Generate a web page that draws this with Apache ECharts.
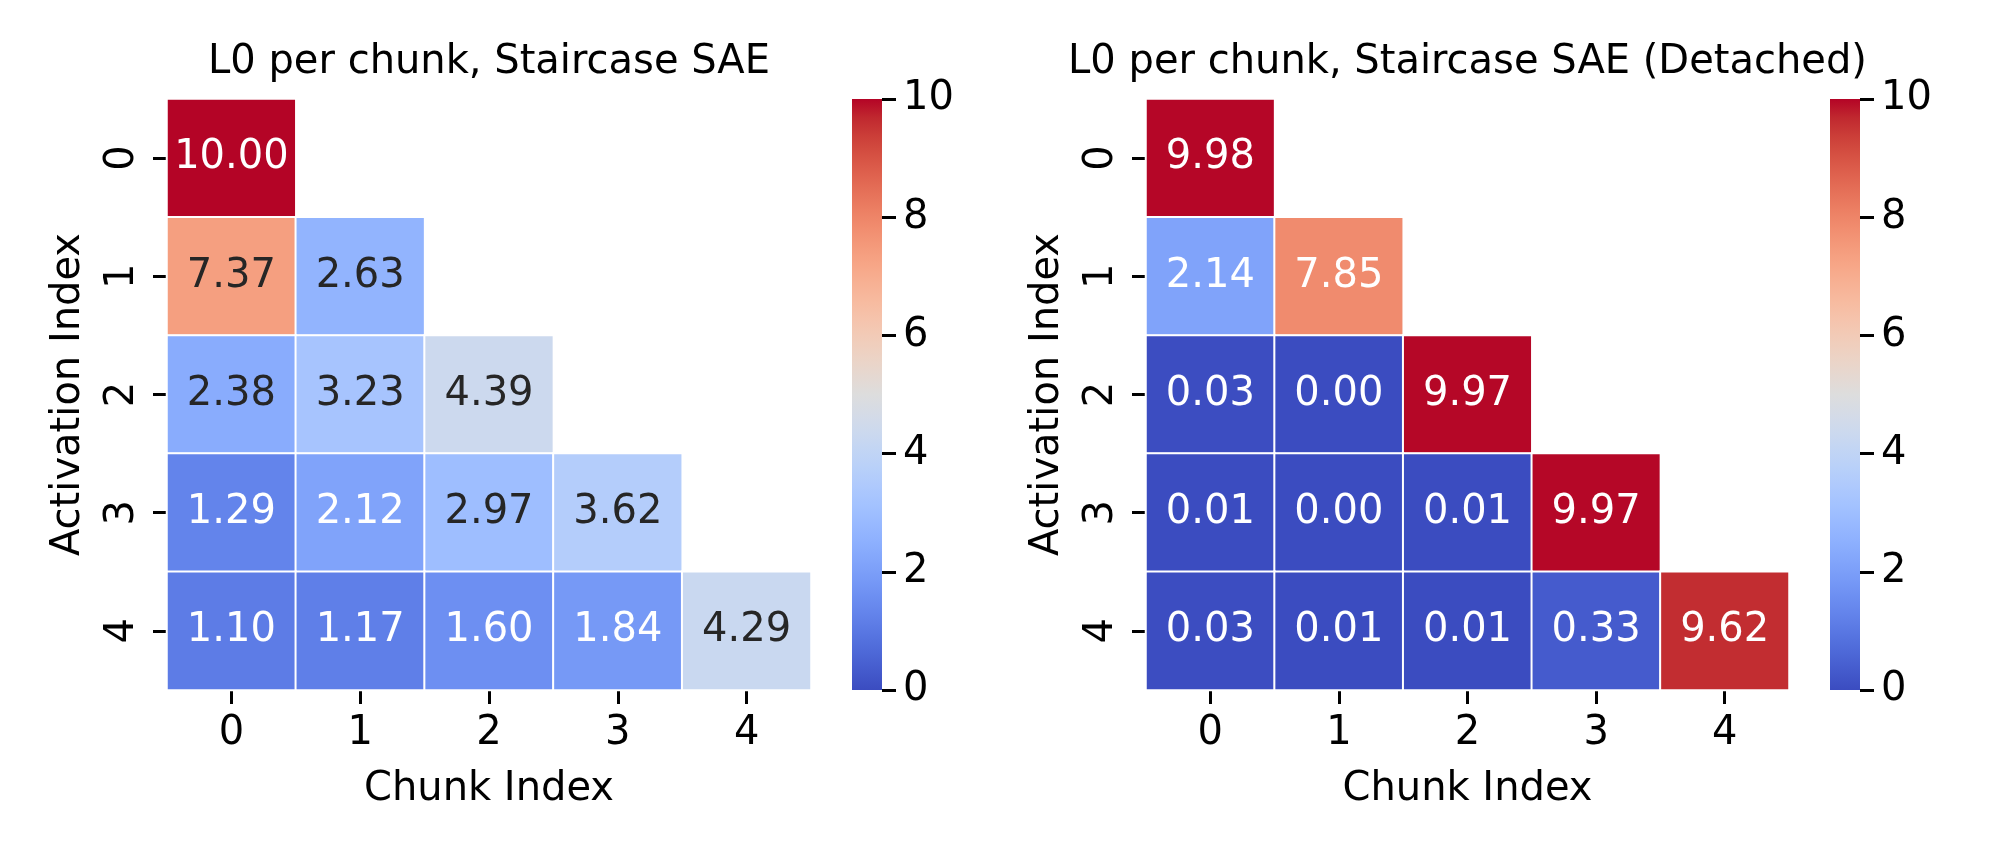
<!DOCTYPE html>
<html><head><meta charset="utf-8">
<script src="https://cdn.jsdelivr.net/npm/echarts@6/dist/echarts.min.js"></script>
<style>html,body{margin:0;padding:0;background:#fff}#c{width:2000px;height:857px}</style>
</head><body><div id="c"></div>
<script>
// ---- data ----
const chunkLabels = ['0', '1', '2', '3', '4'];
const activationLabels = ['0', '1', '2', '3', '4'];
const titleLeft = 'L0 per chunk, Staircase SAE';
const titleRight = 'L0 per chunk, Staircase SAE (Detached)';
const xAxisName = 'Chunk Index';
const yAxisName = 'Activation Index';
// rows = activation index, columns = chunk index (lower triangle only)
const staircaseL0 = [
  [10.00],
  [7.37, 2.63],
  [2.38, 3.23, 4.39],
  [1.29, 2.12, 2.97, 3.62],
  [1.10, 1.17, 1.60, 1.84, 4.29]
];
const detachedL0 = [
  [9.98],
  [2.14, 7.85],
  [0.03, 0.00, 9.97],
  [0.01, 0.00, 0.01, 9.97],
  [0.03, 0.01, 0.01, 0.33, 9.62]
];
const colorMin = 0;
const colorMax = 10;
const colorTickStep = 2;

// ---- style ----
const FONT = 'DejaVu Sans';
const FS = 40;
const coolwarm = [
  [59,76,192],[68,90,204],[77,104,215],[87,117,225],[98,130,234],[108,142,241],[119,154,247],
  [130,165,251],[141,176,254],[152,185,255],[163,194,255],[174,201,253],[184,208,249],[194,213,244],
  [204,217,238],[213,219,230],[221,221,221],[229,216,209],[236,211,197],[241,204,185],[245,196,173],
  [247,187,160],[247,177,148],[247,166,135],[244,154,123],[241,141,111],[236,127,99],[229,112,88],
  [222,96,77],[213,80,66],[203,62,56],[192,40,47],[180,4,38]
];
const coolwarmHex = coolwarm.map(c => 'rgb(' + c.join(',') + ')');

function cmap(v) {
  let t = (v - colorMin) / (colorMax - colorMin);
  t = Math.max(0, Math.min(1, t));
  const f = t * (coolwarm.length - 1);
  const i = Math.min(Math.floor(f), coolwarm.length - 2);
  const r = f - i;
  return coolwarm[i].map((c, k) => c + (coolwarm[i + 1][k] - c) * r);
}
function textColor(v) {
  const lin = cmap(v).map(c => { c /= 255; return c <= 0.03928 ? c / 12.92 : Math.pow((c + 0.055) / 1.055, 2.4); });
  const L = 0.2126 * lin[0] + 0.7152 * lin[1] + 0.0722 * lin[2];
  return L > 0.408 ? '#262626' : '#ffffff';
}
function toCells(rows) {
  const out = [];
  rows.forEach((row, y) => row.forEach((v, x) => {
    out.push({ value: [x, y, v], label: { color: textColor(v) } });
  }));
  return out;
}

const heatGrids = [
  { left: 167, top: 99, width: 644, height: 591 },
  { left: 1146, top: 99, width: 643, height: 591 }
];
const barGrids = [
  { left: 852, top: 99, width: 30, height: 591 },
  { left: 1830, top: 99, width: 30, height: 591 }
];

const tick = () => ({ show: true, length: 14, lineStyle: { color: '#000', width: 3 } });
const xCat = gi => ({
  type: 'category', gridIndex: gi, data: chunkLabels,
  axisLine: { show: false }, splitLine: { show: false },
  axisTick: Object.assign({ alignWithLabel: true }, tick()),
  axisLabel: { fontFamily: FONT, fontSize: FS, color: '#000', margin: 24 },
  name: xAxisName, nameLocation: 'middle', nameGap: 80,
  nameTextStyle: { fontFamily: FONT, fontSize: FS, color: '#000' }
});
const yCat = gi => ({
  type: 'category', gridIndex: gi, data: activationLabels, inverse: true,
  axisLine: { show: false }, splitLine: { show: false },
  axisTick: Object.assign({ alignWithLabel: true }, tick()),
  axisLabel: { fontFamily: FONT, fontSize: FS, color: '#000', margin: 24, rotate: 90 },
  name: yAxisName, nameLocation: 'middle', nameGap: 78, nameRotate: 90,
  nameTextStyle: { fontFamily: FONT, fontSize: FS, color: '#000' }
});
const xBar = gi => ({ type: 'value', gridIndex: gi, show: false, min: 0, max: 1, axisLine: { onZero: false } });
const yBar = gi => ({
  type: 'value', gridIndex: gi, position: 'right', min: colorMin, max: colorMax, interval: colorTickStep,
  axisLine: { show: false, onZero: false }, splitLine: { show: false },
  axisTick: Object.assign({ inside: false }, tick()),
  axisLabel: { fontFamily: FONT, fontSize: FS, color: '#000', margin: 21 }
});

const heatSeries = (idx, rows) => ({
  type: 'heatmap', xAxisIndex: idx, yAxisIndex: idx, data: toCells(rows),
  itemStyle: { borderColor: '#ffffff', borderWidth: 2 },
  label: { show: true, fontFamily: FONT, fontSize: FS, formatter: p => p.value[2].toFixed(2) },
  emphasis: { disabled: true }, progressive: 0
});

// colorbar gradient (top = max colour)
const gradStops = coolwarmHex.map((c, i) => ({ offset: 1 - i / (coolwarmHex.length - 1), color: c })).reverse();
const colorbars = barGrids.map(g => ({
  type: 'rect', z: -10, silent: true,
  shape: { x: g.left, y: g.top, width: g.width, height: g.height },
  style: { fill: new echarts.graphic.LinearGradient(0, 0, 0, 1, gradStops), stroke: null }
}));

const chart = echarts.init(document.getElementById('c'), null, { renderer: 'canvas' });
chart.setOption({
  backgroundColor: '#ffffff',
  animation: false,
  textStyle: { fontFamily: FONT },
  title: [
    { text: titleLeft, left: 489, top: 43, textAlign: 'center', padding: 0,
      textStyle: { fontFamily: FONT, fontSize: FS, fontWeight: 'normal', color: '#000' } },
    { text: titleRight, left: 1467.5, top: 43, textAlign: 'center', padding: 0,
      textStyle: { fontFamily: FONT, fontSize: FS, fontWeight: 'normal', color: '#000' } }
  ],
  grid: [heatGrids[0], heatGrids[1], barGrids[0], barGrids[1]],
  xAxis: [xCat(0), xCat(1), xBar(2), xBar(3)],
  yAxis: [yCat(0), yCat(1), yBar(2), yBar(3)],
  visualMap: [0, 1].map(i => ({
    type: 'continuous', seriesIndex: i, min: colorMin, max: colorMax,
    inRange: { color: coolwarmHex }, show: false
  })),
  graphic: colorbars,
  series: [heatSeries(0, staircaseL0), heatSeries(1, detachedL0)]
});
</script></body></html>
